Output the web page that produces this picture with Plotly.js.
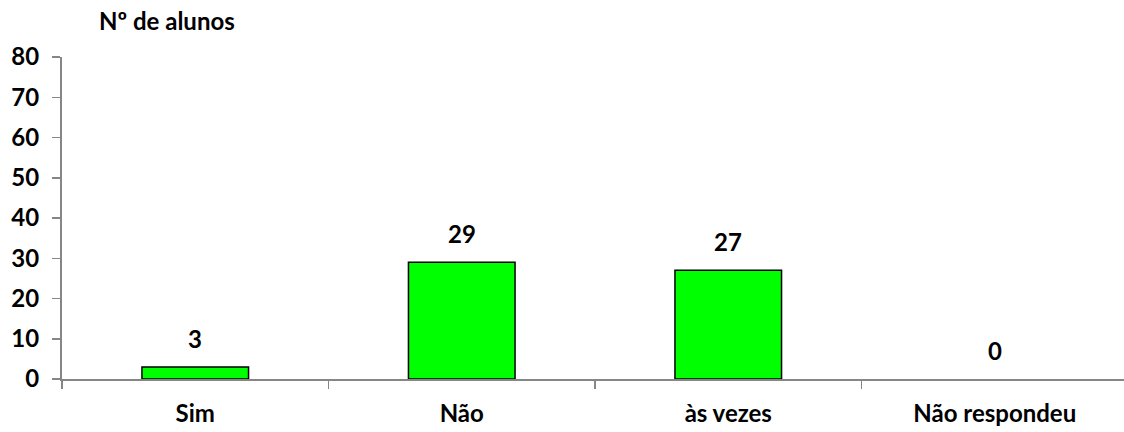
<!DOCTYPE html>
<html>
<head>
<meta charset="utf-8">
<script src="https://cdn.plot.ly/plotly-3.0.1.min.js"></script>
<style>html,body{margin:0;padding:0;background:#fff;}#chart{width:1124px;height:432px;}</style>
</head>
<body>
<div id="chart"></div>
<script>
const categories = ["Sim", "Não", "às vezes", "Não respondeu"];
const values = [3, 29, 27, 0];
const yTicks = [0, 10, 20, 30, 40, 50, 60, 70, 80];
const yTitle = "Nº de alunos";

const FONT = "Lato, 'Open Sans', sans-serif";
const AXIS = "#868686";

const trace = {
  type: "bar",
  x: categories,
  y: values,
  width: 0.4,
  marker: {
    color: "#00FF00",
    line: { color: "#000000", width: values.map(v => v === 0 ? 0 : 1.5) }
  },
  hoverinfo: "none"
};

const annotations = categories.map((c, i) => ({
  x: c, y: values[i], xref: "x", yref: "y",
  text: "<b>" + values[i] + "</b>",
  showarrow: false, yanchor: "bottom", yshift: 12,
  font: { family: FONT, size: 24, color: "#000" }
}));
annotations.push({
  xref: "paper", yref: "paper", x: 105 / 1062, y: 1, xanchor: "center", yanchor: "bottom",
  yshift: 20, text: "<b>" + yTitle + "</b>", showarrow: false,
  font: { family: FONT, size: 24, color: "#000" }
});

const layout = {
  width: 1124, height: 432,
  margin: { l: 62, r: 0, t: 57, b: 53, pad: 0 },
  paper_bgcolor: "#fff", plot_bgcolor: "#fff",
  showlegend: false,
  xaxis: {
    range: [-0.5, 3.485],
    showgrid: false, zeroline: false,
    showline: true, linecolor: AXIS, linewidth: 2,
    ticks: "outside", tickson: "boundaries", ticklen: 8, tickcolor: AXIS, tickwidth: 1.5,
    tickfont: { family: FONT, size: 24, color: "#000", weight: "bold" },
    ticklabelstandoff: 12
  },
  yaxis: {
    range: [0, 80],
    tickvals: yTicks,
    showgrid: false, zeroline: false,
    showline: true, linecolor: AXIS, linewidth: 2,
    ticks: "outside", ticklen: 8, tickcolor: AXIS, tickwidth: 1.5,
    tickfont: { family: FONT, size: 24, color: "#000", weight: "bold" },
    ticklabelstandoff: 8
  },
  annotations: annotations
};

Plotly.newPlot("chart", [trace], layout, { displayModeBar: false, staticPlot: true });
</script>
</body>
</html>
